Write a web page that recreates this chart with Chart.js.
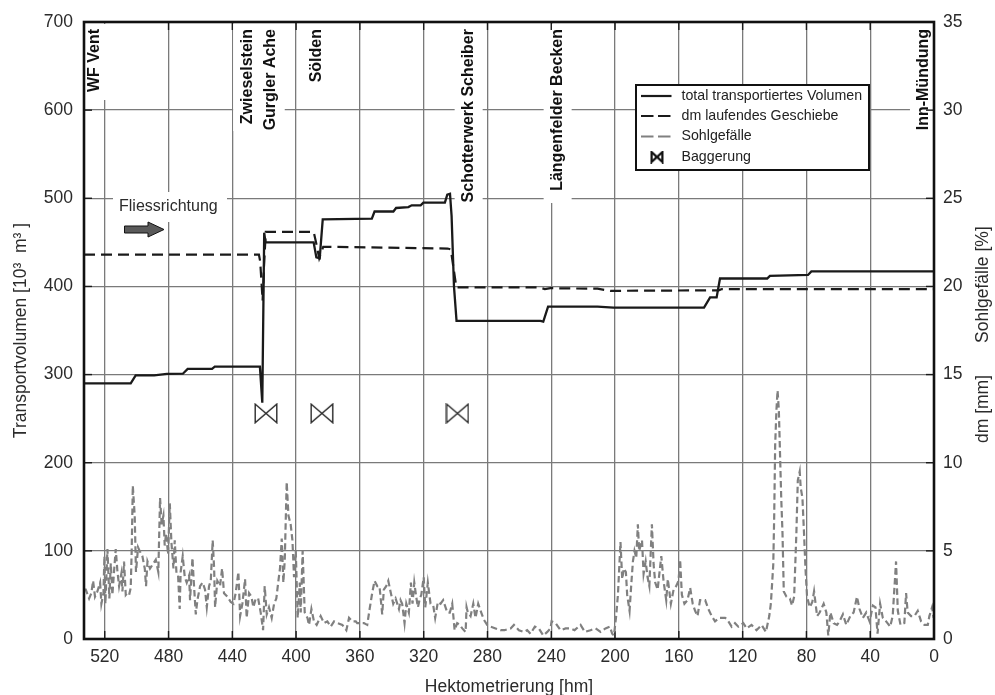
<!DOCTYPE html>
<html>
<head>
<meta charset="utf-8">
<style>
  body { margin: 0; background: #fff; }
  canvas { display: block; }
</style>
<script src="https://cdn.jsdelivr.net/npm/chart.js@4"></script>
</head>
<body>
<canvas id="chart" width="995" height="695"></canvas>
<script>
const xTicks = [0, 40, 80, 120, 160, 200, 240, 280, 320, 360, 400, 440, 480, 520];
const volumeTicks = [0, 100, 200, 300, 400, 500, 600, 700];
const percentTicks = [0, 5, 10, 15, 20, 25, 30, 35];

// total transportiertes Volumen
const volumeHm = [533, 503.7, 500.6, 489, 481, 471, 468, 452.7, 451, 423.6,
  422.7, 421.2, 420, 419.2, 389, 387.3, 385.2, 383.3, 352.5, 350.8,
  339, 337.3, 329.6, 327.5, 321.9, 320.2, 306.7, 305.2, 303.5, 302.5,
  301, 299.4, 246.8, 245, 242, 211, 201, 144.2, 140.4, 136.3,
  134.2, 104.6, 102.9, 79, 76.9, 0];
const volumeValues = [290, 290, 299, 299, 300.7, 301, 306.5, 306.5, 309, 309,
  309, 268, 461, 450, 450, 433, 432, 476, 477, 485,
  485, 489, 490, 492, 492, 495, 495, 504, 505, 480,
  400, 361, 361, 360, 377, 377, 376, 376, 387.5, 387.5,
  409, 409, 412, 413, 417, 417];

// dm laufendes Geschiebe
const dmHm = [533, 423.3, 422.5, 421, 420.2, 419, 389, 387.5, 385.5, 383,
  305, 303, 299.5, 248, 244, 240.5, 211, 203, 135, 133, 0];
const dmValues = [21.8, 21.8, 21.4, 19.2, 21, 23.1, 23.1, 22.5, 21.6, 22.25,
  22.15, 22.1, 19.95, 19.95, 19.85, 19.9, 19.87, 19.75, 19.78, 19.85, 19.85];

// Sohlgefaelle
const slopeHm = [533, 531.9, 529.8, 528.4, 527.3, 526.1, 524.6, 522.9, 522.1, 520.8,
  520.2, 519.6, 518.3, 517.1, 516.2, 515.2, 514.1, 513.1, 512.1, 511,
  509.6, 508.9, 507.9, 506.8, 505.8, 504.7, 503.7, 503.1, 502.4, 501.2,
  500.4, 499.1, 498.1, 496.4, 494.9, 494.1, 493.2, 491.6, 490.1, 488,
  486.4, 485.3, 484.3, 483.2, 482.4, 481.5, 480.3, 479.2, 478.2, 476.9,
  476.1, 475, 474, 473, 472.4, 471.1, 469.8, 468.6, 467.1, 466.5,
  465, 464, 462.9, 461.9, 460.2, 458.6, 457.1, 456, 454.6, 453.5,
  452.3, 451.4, 450.8, 449.4, 447.7, 446.4, 445.2, 443.1, 441, 439.3,
  437.9, 436.2, 435.1, 433.7, 432, 431, 429.5, 428, 426.8, 425.3,
  423.8, 422.2, 420.7, 419.7, 418.4, 417, 415.3, 413.8, 412.4, 411.1,
  410.1, 409, 408, 407.1, 405.9, 404.8, 403.4, 402.3, 401.3, 400.2,
  399, 397.7, 397.1, 395.9, 394.6, 392.9, 391.9, 390.4, 388.8, 387.1,
  384.6, 382.5, 380.4, 378.3, 376.2, 374.1, 371, 368.5, 366.8, 364.7,
  362.6, 361.7, 359.6, 357.5, 355.4, 353.9, 352.3, 350.8, 349.1, 347.7,
  346, 345, 343.5, 342.2, 340.8, 339.1, 337.6, 335.5, 334.5, 333.5,
  332, 330.9, 329.3, 328, 327, 325.9, 324.7, 323.6, 322.4, 321.5,
  320, 319, 317.4, 315.7, 314, 312.8, 311.1, 309.4, 307.8, 305.2,
  303.6, 302.1, 300.6, 299, 297.3, 295.8, 293.7, 293.1, 292.3, 290.6,
  288.9, 287.5, 285.8, 283.9, 282.3, 280.2, 278.1, 274.9, 271.8, 269.3,
  265.5, 263.4, 260.3, 257.2, 255.1, 253, 250.3, 247.8, 245, 242.5,
  240.5, 239.8, 237.3, 234.2, 231, 227.9, 225.4, 221.6, 218.9, 215.4,
  212.2, 209.1, 206, 203.2, 201.8, 200.7, 199.3, 198.2, 197.4, 196.6,
  195.5, 194.5, 193.2, 192.4, 190.9, 189.9, 188.8, 187.8, 186.7, 185.7,
  184.9, 183.1, 182.1, 180.8, 179.6, 178.5, 176.9, 175.8, 174.8, 173.3,
  171, 169.6, 167.9, 166.9, 165, 163.3, 161.7, 160.2, 159.2, 158.1,
  156.5, 154.6, 152.9, 151.3, 149.8, 148.3, 146.7, 143.5, 141.5, 139.4,
  137.3, 134.6, 131, 129.6, 126.9, 124.8, 122.7, 119.6, 117.5, 114.4,
  111.3, 108.1, 105.4, 103.3, 102.3, 100.8, 100.2, 99.6, 98.8, 98.1,
  97.3, 96.7, 95.8, 95, 94.2, 92.5, 90.4, 89, 87.7, 86.3,
  85.4, 84.2, 83.6, 82.5, 81.5, 80.6, 79.6, 77.9, 76.3, 75.2,
  73.3, 71.7, 69.2, 67.5, 66.3, 65, 62.9, 60.8, 59.2, 57.1,
  55, 52.5, 50.4, 48.3, 46.7, 44.6, 42.5, 40.4, 38.3, 36.7,
  35.4, 33.8, 32.1, 30, 27.5, 25.9, 23.8, 22.7, 21, 18.6,
  17.5, 16.5, 14.4, 12.3, 10.2, 8.1, 6, 3.9, 2.9, 1.2,
  0.2];
const slopeValues = [2.8, 2.8, 2.3, 2.6, 3.3, 2.4, 2.7, 3.2, 2.0, 2.6,
  4.7, 2.0, 5.1, 2.3, 4.3, 2.5, 3.9, 5.1, 3.9, 3.0,
  3.7, 2.7, 4.4, 2.5, 2.6, 2.5, 2.9, 5.0, 8.7, 7.0,
  3.8, 5.2, 5.0, 4.7, 4.0, 3.0, 4.4, 4.0, 4.2, 4.5,
  3.8, 8.0, 6.5, 7.0, 5.3, 6.0, 4.8, 7.7, 5.5, 4.0,
  5.6, 3.7, 3.6, 1.7, 3.8, 4.7, 3.5, 3.2, 3.6, 2.2,
  4.6, 3.0, 1.4, 2.2, 3.0, 3.2, 2.8, 1.8, 3.0, 3.3,
  5.6, 4.0, 1.8, 3.3, 3.0, 4.0, 2.6, 2.4, 2.1, 2.0,
  2.6, 3.8, 1.3, 2.0, 3.4, 1.2, 2.6, 2.4, 1.8, 2.3,
  2.3, 1.5, 0.5, 3.0, 1.4, 1.8, 1.2, 2.0, 2.3, 3.3,
  4.0, 5.7, 3.2, 4.5, 8.9, 7.0, 6.5, 5.6, 3.5, 5.0,
  1.2, 3.2, 1.5, 5.0, 1.5, 1.2, 0.8, 1.7, 1.0, 0.8,
  1.3, 0.9, 1.0, 0.7, 1.0, 0.9, 0.8, 0.5, 1.2, 1.0,
  1.0, 0.9, 0.9, 0.9, 0.8, 1.7, 2.6, 3.3, 3.0, 3.0,
  1.4, 2.8, 3.0, 3.3, 2.7, 2.0, 2.3, 1.7, 2.2, 2.0,
  0.9, 2.0, 1.5, 3.2, 2.0, 3.2, 2.4, 1.8, 2.3, 2.5,
  3.5, 1.8, 3.2, 2.0, 1.9, 1.2, 2.1, 2.0, 2.2, 1.5,
  1.5, 2.0, 0.5, 0.9, 0.8, 0.6, 0.4, 1.8, 1.5, 1.3,
  2.0, 1.2, 2.0, 1.5, 1.1, 0.8, 0.7, 0.6, 0.5, 0.5,
  0.6, 0.8, 0.5, 0.4, 0.5, 0.3, 0.7, 0.6, 0.2, 0.4,
  0.6, 1.0, 0.9, 0.5, 0.6, 0.6, 0.5, 0.8, 0.4, 0.5,
  0.6, 0.4, 0.6, 0.7, 0.3, 0.2, 1.3, 2.5, 4.0, 5.5,
  3.4, 4.0, 3.8, 2.5, 1.6, 3.0, 4.4, 5.0, 4.6, 6.5,
  5.0, 5.6, 3.7, 4.4, 3.5, 3.0, 6.5, 4.2, 3.2, 2.8,
  4.7, 3.3, 2.2, 3.4, 2.0, 2.8, 3.0, 3.3, 4.5, 2.5,
  2.0, 2.2, 2.9, 2.0, 1.6, 1.3, 2.2, 2.2, 1.7, 1.3,
  1.0, 1.2, 1.2, 1.1, 0.7, 0.9, 0.7, 0.9, 0.6, 0.8,
  0.5, 0.8, 0.4, 1.3, 2.0, 4.2, 7.0, 11.0, 13.0, 14.1,
  13.0, 11.0, 8.0, 6.0, 2.7, 2.4, 2.3, 1.9, 2.4, 6.0,
  9.0, 9.5, 8.6, 8.0, 6.0, 4.0, 2.4, 1.8, 2.1, 2.7,
  1.3, 1.5, 2.0, 1.5, 0.2, 1.5, 0.9, 0.8, 1.0, 1.4,
  0.8, 1.3, 1.5, 2.4, 1.7, 1.2, 1.5, 1.0, 1.9, 1.8,
  0.3, 2.0, 1.2, 1.0, 0.7, 1.3, 4.4, 1.6, 0.8, 0.9,
  2.6, 1.5, 1.3, 1.3, 1.6, 1.0, 0.8, 0.8, 1.3, 1.8,
  1.2];

// Baggerung
const dredgeHm = [418.9, 383.8, 298.8];
const dredgeValues = [256, 256, 256];

const siteNames = ["WF Vent", "Zwieselstein", "Gurgler Ache", "Sölden", "Schotterwerk Scheiber", "Längenfelder Becken", "Inn-Mündung"];
const siteHm = [526.3, 430.7, 415.9, 387, 291.8, 236, 6.3];

const legendNames = ["total transportiertes Volumen", "dm laufendes Geschiebe", "Sohlgefälle", "Baggerung"];

const FONT = '"Liberation Sans", Arial, sans-serif';
const INK = "#1a1a1a";
const GRID = "#7a7a7a";
const SLOPE = "#808080";

const toPoints = (xs, ys) => xs.map((x, i) => ({ x: x, y: ys[i] }));

function bowtie(w, h, lw, color) {
  const c = document.createElement("canvas");
  c.width = w;
  c.height = h;
  const g = c.getContext("2d");
  g.strokeStyle = color;
  g.lineWidth = lw;
  g.lineJoin = "miter";
  const p = lw / 2 + 0.5;
  g.beginPath();
  g.moveTo(p, p);
  g.lineTo(w - p, h - p);
  g.lineTo(w - p, p);
  g.lineTo(p, h - p);
  g.closePath();
  g.stroke();
  return c;
}

function drawText(ctx, text, x, y, font, color, align, rotated) {
  ctx.save();
  ctx.translate(x, y);
  if (rotated) ctx.rotate(-Math.PI / 2);
  ctx.font = font;
  ctx.fillStyle = color;
  ctx.textAlign = align;
  ctx.textBaseline = "middle";
  ctx.fillText(text, 0, 0);
  ctx.restore();
}

const labelEnds = [100, 131, 131, 88, 212, 203, 136];

const masksPlugin = {
  id: "masks",
  beforeDatasetsDraw(chart) {
    const { ctx, chartArea, scales } = chart;
    ctx.save();
    ctx.fillStyle = "#fff";
    siteHm.forEach((hm, i) => {
      const x = scales.x.getPixelForValue(hm);
      ctx.fillRect(x - 14, chartArea.top + 2, 28, labelEnds[i] - chartArea.top - 2);
    });
    // Fliessrichtung
    ctx.fillRect(113, 192, 114, 30);
    // short ticks, darker than the grid
    ctx.fillStyle = INK;
    scales.x.ticks.forEach((t) => {
      const x = scales.x.getPixelForValue(t.value);
      ctx.fillRect(x - 0.7, chartArea.bottom - 8, 1.4, 8);
      if (t.value !== 520) ctx.fillRect(x - 0.7, chartArea.top, 1.4, 8);
    });
    scales.y.ticks.forEach((t) => {
      const y = scales.y.getPixelForValue(t.value);
      ctx.fillRect(chartArea.left, y - 0.7, 8, 1.4);
      ctx.fillRect(chartArea.right - 8, y - 0.7, 8, 1.4);
    });
    ctx.restore();
  },
  afterDatasetsDraw(chart) {
    const { ctx, chartArea, scales } = chart;

    siteNames.forEach((name, i) => {
      const x = scales.x.getPixelForValue(siteHm[i]);
      drawText(ctx, name, x, chartArea.top + 7, "bold 16px " + FONT, "#111", "right", true);
    });

    // flow direction
    drawText(ctx, "Fliessrichtung", 119, 207, "16px " + FONT, "#2b2b2b", "left", false);
    ctx.save();
    ctx.beginPath();
    ctx.moveTo(124.5, 226);
    ctx.lineTo(148, 226);
    ctx.lineTo(148, 222);
    ctx.lineTo(164, 229.5);
    ctx.lineTo(148, 237);
    ctx.lineTo(148, 233);
    ctx.lineTo(124.5, 233);
    ctx.closePath();
    ctx.fillStyle = "#5a5a5a";
    ctx.strokeStyle = "#111";
    ctx.lineWidth = 1;
    ctx.fill();
    ctx.stroke();
    ctx.restore();

    // legend box
    ctx.save();
    ctx.fillStyle = "#fff";
    ctx.strokeStyle = "#111";
    ctx.lineWidth = 2;
    ctx.fillRect(636, 85, 233, 85);
    ctx.strokeRect(636, 85, 233, 85);
    const rows = [96, 116, 136.5, 157];
    const lines = [
      { color: INK, dash: [] },
      { color: INK, dash: [12.5, 4.5] },
      { color: SLOPE, dash: [12.5, 4.5] }
    ];
    lines.forEach((l, i) => {
      ctx.beginPath();
      ctx.setLineDash(l.dash);
      ctx.strokeStyle = l.color;
      ctx.lineWidth = 2.2;
      ctx.moveTo(641, rows[i]);
      ctx.lineTo(671.5, rows[i]);
      ctx.stroke();
    });
    ctx.setLineDash([]);
    ctx.drawImage(bowtie(14, 13, 2.2, "#111"), 650, 150.5);
    ctx.restore();
    legendNames.forEach((name, i) => {
      drawText(ctx, name, 681.5, rows[i], "14.2px " + FONT, "#222", "left", false);
    });

    // frame
    ctx.save();
    ctx.strokeStyle = "#111";
    ctx.lineWidth = 2.6;
    ctx.strokeRect(chartArea.left, chartArea.top, chartArea.right - chartArea.left, chartArea.bottom - chartArea.top);
    ctx.restore();

    // right axis has two titles
    drawText(ctx, "Sohlgefälle [%]", 983, 343, "17.5px " + FONT, "#2b2b2b", "left", true);
    drawText(ctx, "dm [mm]", 983, 443, "17.5px " + FONT, "#2b2b2b", "left", true);
  }
};

new Chart(document.getElementById("chart"), {
  type: "line",
  data: {
    datasets: [
      {
        label: legendNames[0],
        data: toPoints(volumeHm, volumeValues),
        yAxisID: "y",
        borderColor: INK,
        borderWidth: 2.3,
        pointRadius: 0,
        tension: 0
      },
      {
        label: legendNames[1],
        data: toPoints(dmHm, dmValues),
        yAxisID: "y2",
        borderColor: INK,
        borderWidth: 2.2,
        borderDash: [11, 6],
        pointRadius: 0,
        tension: 0
      },
      {
        label: legendNames[2],
        data: toPoints(slopeHm, slopeValues),
        yAxisID: "y2",
        borderColor: SLOPE,
        borderWidth: 2.2,
        borderDash: [6.5, 3.5],
        pointRadius: 0,
        tension: 0
      },
      {
        label: legendNames[3],
        data: toPoints(dredgeHm, dredgeValues),
        yAxisID: "y",
        showLine: false,
        pointStyle: bowtie(24, 21, 1.4, "#2a2a2a"),
        pointRadius: 10
      }
    ]
  },
  options: {
    responsive: false,
    animation: false,
    layout: { padding: { top: 22 } },
    plugins: { legend: { display: false }, tooltip: { enabled: false } },
    scales: {
      x: {
        type: "linear",
        reverse: true,
        min: 0,
        max: 533,
        afterBuildTicks(scale) { scale.ticks = xTicks.map((v) => ({ value: v })); },
        afterFit(scale) { scale.height = 56; },
        grid: { color: GRID, lineWidth: 1.3, drawTicks: false },
        border: { display: false },
        ticks: { autoSkip: false, maxRotation: 0, padding: 8, color: "#2b2b2b", font: { family: FONT, size: 17.5 } },
        title: { display: true, text: "Hektometrierung [hm]", color: "#2b2b2b", font: { family: FONT, size: 17.5 }, padding: { top: 0, bottom: -3 } }
      },
      y: {
        position: "left",
        min: 0,
        max: 700,
        afterBuildTicks(scale) { scale.ticks = volumeTicks.map((v) => ({ value: v })); },
        afterFit(scale) { scale.width = 84; },
        grid: { color: GRID, lineWidth: 1.3, drawTicks: false },
        border: { display: false },
        ticks: { padding: 11, color: "#2b2b2b", font: { family: FONT, size: 17.5 } },
        title: { display: true, text: "Transportvolumen [10³  m³ ]", color: "#2b2b2b", font: { family: FONT, size: 17.5 }, padding: { top: 11, bottom: 0 } }
      },
      y2: {
        position: "right",
        min: 0,
        max: 35,
        afterBuildTicks(scale) { scale.ticks = percentTicks.map((v) => ({ value: v })); },
        afterFit(scale) { scale.width = 61; },
        grid: { drawOnChartArea: false, drawTicks: false },
        border: { display: false },
        ticks: { padding: 9, color: "#2b2b2b", font: { family: FONT, size: 17.5 } }
      }
    }
  },
  plugins: [masksPlugin]
});
</script>
</body>
</html>
